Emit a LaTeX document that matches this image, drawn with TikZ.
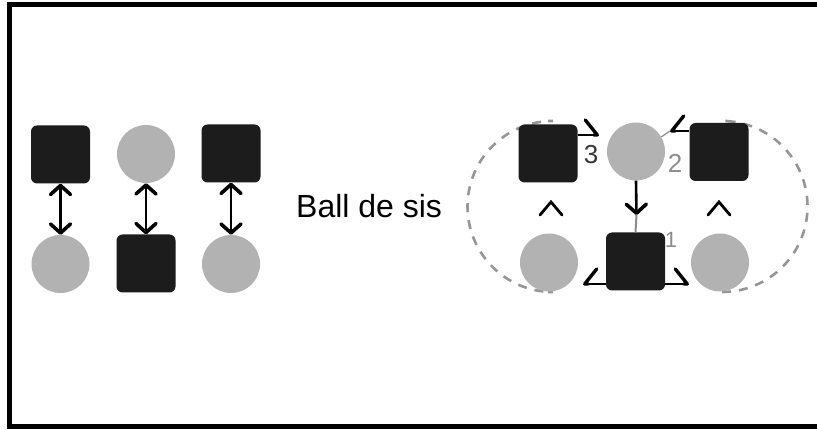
\documentclass[tikz,border=0pt]{standalone}
\usepackage{fontspec}
\setmainfont{Liberation Sans}
\usetikzlibrary{arrows.meta}
\definecolor{sqfill}{RGB}{28,28,28}
\definecolor{cifill}{RGB}{178,178,178}
\definecolor{dashgray}{RGB}{150,150,150}
\definecolor{labdark}{RGB}{55,55,55}
\definecolor{lablight}{RGB}{140,140,140}
\tikzset{
  barb/.tip={Straight Barb[length=9pt,width=20pt,line width=3.6pt,round]},
  sq/.style={draw=none,fill=sqfill,rounded corners=6pt,minimum width=59pt,minimum height=58pt,inner sep=0pt},
  ci/.style={circle,draw=none,fill=cifill,minimum size=58pt,inner sep=0pt},
  dbl/.style={line width=2.6pt,barb-barb},
  harpL/.style={line width=2.6pt,-{Straight Barb[left,length=12pt,width=30pt,line width=3.4pt,round]}},
  harpR/.style={line width=2.6pt,-{Straight Barb[right,length=12pt,width=30pt,line width=3.4pt,round]}},
  downarr/.style={line width=2.6pt,-barb},
  caret/.style={line width=2.8pt},
  numlab/.style={inner sep=0pt,font=\fontsize{26pt}{26pt}\selectfont},
  dashedarc/.style={draw=dashgray,line width=2.6pt,dash pattern=on 9pt off 8pt}
}
\begin{document}
\begin{tikzpicture}[x=1pt,y=-1pt]
\useasboundingbox (0,0) rectangle (817,430);
\fill[white] (0,0) rectangle (817,430);
% frame
\draw[line width=5pt] (840,5) -- (9.5,5) -- (9.5,426) -- (840,426);

% left panel
\node[sq] (sA) at (60.5,154.5) {};
\node[ci] (cB) at (146,154) {};
\node[sq] (sC) at (231,153.5) {};
\node[ci] (cD) at (60.5,264) {};
\node[sq] (sE) at (146,263.5) {};
\node[ci] (cF) at (231,264) {};
\draw[dbl] (sA) -- (cD);
\draw[dbl] (cB) -- (sE);
\draw[dbl] (sC) -- (cF);

% label
\node[anchor=base west,inner sep=0pt,font=\fontsize{32pt}{32pt}\selectfont] (title) at (296,218) {Ball de sis};

% right panel: dashed rounded ends
\draw[dashedarc] (548,121) -- (553,121) arc[start angle=-90,end angle=-270,radius=85.5] -- (548,292);
\draw[dashedarc] (722,292) arc[start angle=90,end angle=-90,radius=85.5] -- (727,121);
\node[sq] (r1) at (548,153.5) {};
\node[ci] (r2) at (636,151.5) {};
\node[sq] (r3) at (719,152) {};
\node[ci] (r4) at (549,262.5) {};
\node[sq] (r5) at (635.5,261.5) {};
\node[ci] (r6) at (720,262.5) {};

\coordinate (t1) at (599,135);
\coordinate (t2) at (670,131);
\coordinate (t3) at (583,284);
\coordinate (t4) at (689,284);
\coordinate (mid) at (636.5,215);

\draw[harpL] (r1.east |- t1) -- (t1);
\draw[harpR] (r3.west |- t2) -- (t2);
\draw[line width=1.2pt,lablight] (t2) -- (r2.30);
\draw[harpR] (r5.west |- t3) -- (t3);
\draw[harpL] (r5.east |- t4) -- (t4);
\draw[downarr] (r2.south) -- (mid);
\draw[line width=2pt,lablight] (mid) -- (r5.north);

\draw[caret,line cap=round] (540,215) -- (551,202) -- (562,215);
\draw[caret,line cap=round] (708,215) -- (719,202) -- (730,215);

\node[numlab,text=labdark] (n3) at (591,155) {3};
\node[numlab,text=lablight] (n2) at (675,163) {2};
\node[numlab,text=lablight,font=\fontsize{22pt}{22pt}\selectfont] (n1) at (671,240) {1};
\end{tikzpicture}
\end{document}
